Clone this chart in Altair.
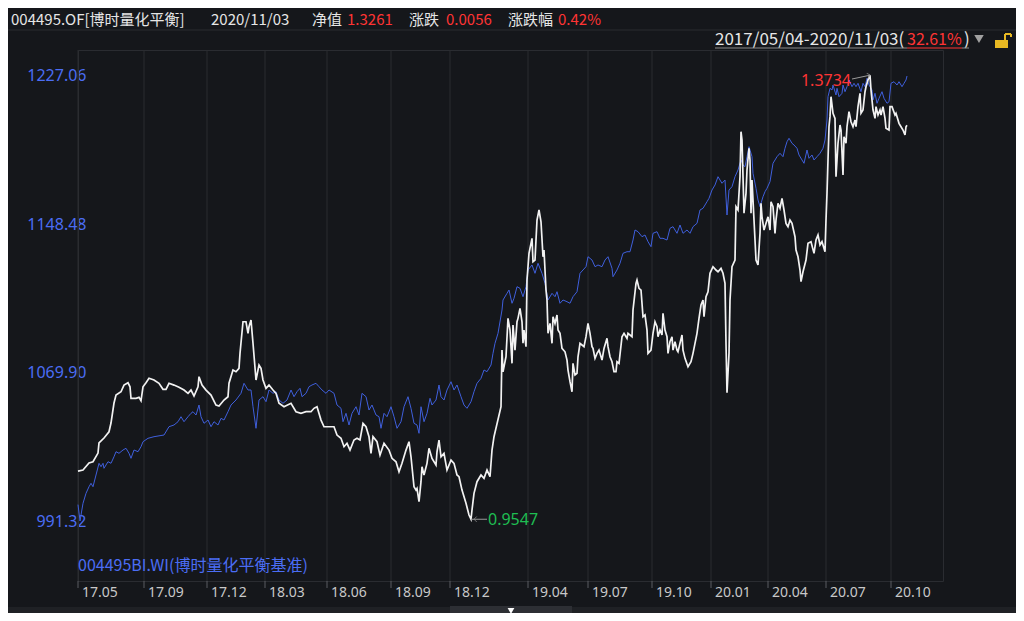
import altair as alt
import pandas as pd

# ---------------- data ----------------
# trading-session number since 2017/05/04 and unit NAV of 004495.OF
nav_day = [
    0, 5, 11, 15, 20, 21, 26, 31, 33, 36, 38, 43, 46, 50, 52, 53, 58, 61, 63, 65,
    68, 71, 76, 81, 85, 88, 91, 96, 101, 106, 110, 113, 116, 120, 121, 124, 128, 133, 138, 141,
    146, 150, 151, 155, 158, 161, 162, 165, 168, 170, 171, 173, 175, 178, 181, 183, 185, 188, 191, 195,
    198, 201, 206, 213, 218, 223, 228, 233, 236, 239, 243, 246, 251, 256, 259, 263, 266, 269, 272, 276,
    279, 282, 285, 288, 291, 293, 295, 299, 302, 306, 311, 314, 318, 321, 324, 328, 331, 333, 336, 338,
    339, 341, 343, 344, 346, 349, 351, 354, 358, 359, 361, 363, 366, 369, 373, 376, 379, 381, 384, 388,
    391, 393, 394, 396, 399, 403, 406, 409, 412, 414, 416, 423, 424, 425, 428, 430, 432, 434, 435, 437,
    439, 440, 442, 444, 445, 446, 448, 449, 451, 454, 455, 457, 459, 461, 463, 465, 466, 468, 469, 470,
    472, 474, 475, 477, 479, 480, 482, 484, 487, 489, 490, 492, 494, 495, 497, 499, 500, 502, 504, 506,
    508, 510, 512, 514, 515, 517, 519, 521, 524, 526, 529, 530, 532, 534, 536, 538, 539, 541, 544, 546,
    549, 550, 554, 555, 558, 559, 561, 563, 565, 567, 569, 570, 573, 575, 577, 579, 580, 582, 584, 585,
    587, 589, 590, 592, 594, 595, 597, 599, 600, 602, 604, 605, 607, 610, 613, 615, 619, 621, 623, 625,
    626, 628, 630, 632, 635, 638, 640, 643, 645, 647, 648, 649, 651, 652, 654, 657, 658, 660, 662, 663,
    664, 666, 668, 669, 671, 672, 673, 674, 677, 678, 680, 682, 683, 684, 686, 688, 690, 692, 693, 695,
    697, 698, 700, 702, 704, 706, 708, 710, 712, 714, 717, 718, 720, 722, 723, 725, 728, 730, 733, 736,
    738, 740, 742, 744, 747, 748, 749, 750, 751, 752, 753, 755, 757, 758, 760, 762, 763, 765, 766, 768,
    769, 771, 773, 775, 777, 778, 780, 782, 783, 785, 787, 788, 790, 792, 793, 795, 797, 798, 800, 802,
    803, 805, 807, 808, 811, 812, 814, 817, 818, 821, 823, 825, 827, 828, 829,
]
nav_value = [
    1.0000, 1.0011, 1.0077, 1.0089, 1.0171, 1.0266, 1.0313, 1.0372, 1.0454, 1.0643, 1.0718, 1.0749, 1.0812, 1.0834, 1.0796, 1.0687, 1.0687, 1.0696, 1.0664, 1.0796,
    1.0834, 1.0876, 1.0860, 1.0829, 1.0772, 1.0772, 1.0829, 1.0812, 1.0791, 1.0765, 1.0734, 1.0765, 1.0709, 1.0796, 1.0891, 1.0812, 1.0765, 1.0718, 1.0624, 1.0614,
    1.0671, 1.0702, 1.0829, 1.0954, 1.0938, 1.0970, 1.1111, 1.1409, 1.1409, 1.1300, 1.1362, 1.1425, 1.1206, 1.0860, 1.1001, 1.0970, 1.0860, 1.0781, 1.0812, 1.0765,
    1.0734, 1.0640, 1.0608, 1.0640, 1.0561, 1.0546, 1.0561, 1.0561, 1.0593, 1.0608, 1.0482, 1.0419, 1.0419, 1.0419, 1.0341, 1.0310, 1.0231, 1.0263, 1.0199, 1.0294,
    1.0310, 1.0294, 1.0451, 1.0419, 1.0325, 1.0168, 1.0325, 1.0278, 1.0152, 1.0263, 1.0199, 1.0121, 1.0089, 0.9995, 1.0074, 1.0199, 1.0278, 1.0136, 0.9853, 0.9822,
    0.9838, 0.9712, 0.9901, 1.0042, 0.9964, 1.0074, 1.0216, 1.0121, 1.0058, 1.0183, 1.0294, 1.0136, 1.0168, 1.0011, 1.0105, 1.0074, 0.9964, 0.9948, 0.9822, 0.9697,
    0.9587, 0.9547, 0.9634, 0.9791, 0.9901, 0.9964, 0.9933, 1.0011, 0.9948, 1.0199, 1.0325, 1.0608, 1.1142, 1.0938, 1.1079, 1.1441, 1.1331, 1.1017, 1.1378, 1.1142,
    1.1409, 1.1441, 1.1536, 1.1409, 1.1206, 1.1331, 1.1174, 1.1803, 1.2054, 1.2196, 1.1975, 1.1991, 1.2368, 1.2463, 1.2352, 1.2022, 1.2085, 1.1708, 1.1614, 1.1300,
    1.1394, 1.1206, 1.1457, 1.1394, 1.1473, 1.1331, 1.1300, 1.1158, 1.1126, 1.1048, 1.0954, 1.0844, 1.0749, 1.1017, 1.0907, 1.0923, 1.1079, 1.1206, 1.1190, 1.1174,
    1.1268, 1.1394, 1.1300, 1.1174, 1.1158, 1.1064, 1.1111, 1.1142, 1.1048, 1.1158, 1.1253, 1.1174, 1.1079, 1.1032, 1.0938, 1.0938, 1.1032, 1.1017, 1.1268, 1.1300,
    1.1253, 1.1300, 1.1268, 1.1520, 1.1771, 1.1803, 1.1724, 1.1708, 1.1457, 1.1473, 1.1331, 1.1111, 1.1142, 1.1300, 1.1409, 1.1362, 1.1268, 1.1331, 1.1284, 1.1489,
    1.1331, 1.1268, 1.1111, 1.1221, 1.1268, 1.1142, 1.1221, 1.1142, 1.1126, 1.1206, 1.1284, 1.1142, 1.1064, 1.0985, 1.1032, 1.1111, 1.1300, 1.1441, 1.1567, 1.1614,
    1.1457, 1.1645, 1.1692, 1.1866, 1.1928, 1.1897, 1.1881, 1.1913, 1.1866, 1.1771, 1.1206, 1.0740, 1.1111, 1.1614, 1.1928, 1.1991, 1.2494, 1.2463, 1.2777, 1.3201,
    1.3123, 1.2432, 1.2620, 1.2840, 1.3045, 1.2934, 1.2432, 1.2746, 1.2180, 1.1991, 1.1944, 1.2243, 1.2526, 1.2399, 1.2274, 1.2337, 1.2399, 1.2274, 1.2541, 1.2494,
    1.2243, 1.2368, 1.2526, 1.2479, 1.2573, 1.2463, 1.2337, 1.2305, 1.2368, 1.2337, 1.2211, 1.2085, 1.2022, 1.1897, 1.1787, 1.1881, 1.1991, 1.2149, 1.2164, 1.2054,
    1.2180, 1.2227, 1.2133, 1.2164, 1.2069, 1.2368, 1.2620, 1.2934, 1.3248, 1.3343, 1.3531, 1.3375, 1.3327, 1.2777, 1.3092, 1.3264, 1.3217, 1.2793, 1.3154, 1.3092,
    1.3248, 1.3390, 1.3295, 1.3248, 1.3311, 1.3248, 1.3437, 1.3563, 1.3375, 1.3406, 1.3578, 1.3625, 1.3689, 1.3734, 1.3594, 1.3406, 1.3327, 1.3437, 1.3359, 1.3406,
    1.3359, 1.3437, 1.3327, 1.3233, 1.3217, 1.3437, 1.3437, 1.3359, 1.3375, 1.3280, 1.3248, 1.3217, 1.3170, 1.3248, 1.3261,
]

# benchmark 004495BI.WI
bm_day = [
    0, 2, 5, 8, 11, 13, 15, 18, 21, 23, 25, 26, 30, 33, 36, 38, 41, 45, 48, 51,
    53, 56, 60, 63, 65, 70, 76, 86, 91, 96, 100, 103, 106, 110, 113, 115, 118, 121, 123, 126,
    130, 133, 136, 140, 143, 146, 150, 153, 158, 163, 166, 170, 173, 175, 178, 181, 185, 188, 191, 195,
    198, 201, 205, 209, 213, 216, 219, 222, 224, 228, 231, 234, 238, 241, 244, 248, 251, 256, 259, 263,
    265, 268, 271, 274, 278, 281, 284, 288, 291, 294, 298, 301, 303, 306, 309, 313, 316, 319, 323, 326,
    330, 333, 336, 339, 341, 343, 346, 349, 352, 354, 358, 361, 363, 366, 369, 373, 376, 379, 383, 386,
    389, 393, 396, 399, 403, 406, 409, 413, 415, 417, 420, 424, 425, 429, 431, 434, 436, 439, 442, 445,
    448, 450, 454, 457, 460, 464, 467, 470, 474, 477, 479, 482, 485, 489, 492, 495, 499, 502, 505, 508,
    510, 514, 517, 520, 524, 527, 530, 534, 535, 539, 542, 545, 549, 552, 555, 557, 560, 564, 567, 570,
    573, 575, 579, 582, 585, 589, 592, 595, 599, 602, 605, 609, 612, 615, 619, 622, 625, 629, 631, 634,
    637, 640, 644, 647, 649, 651, 654, 657, 660, 663, 665, 667, 669, 671, 674, 675, 678, 680, 682, 685,
    687, 689, 692, 695, 697, 699, 702, 705, 707, 709, 711, 714, 716, 719, 721, 724, 726, 729, 731, 734,
    736, 739, 742, 745, 747, 749, 750, 752, 754, 755, 758, 759, 761, 764, 765, 767, 769, 771, 774, 776,
    778, 780, 783, 785, 787, 789, 791, 794, 795, 797, 799, 801, 804, 806, 809, 811, 813, 816, 819, 821,
    824, 826, 828, 829,
]
bm_value = [
    1000.00, 991.32, 1000.70, 1005.99, 1009.49, 1011.29, 1009.49, 1015.69, 1021.89, 1020.09, 1021.89, 1019.24, 1022.73, 1021.89, 1025.38, 1028.03, 1027.19, 1028.93, 1029.83, 1027.19,
    1024.54, 1028.93, 1028.03, 1030.68, 1033.33, 1035.13, 1035.98, 1036.88, 1041.28, 1042.18, 1043.92, 1046.57, 1043.92, 1046.57, 1048.37, 1049.22, 1047.47, 1052.77, 1046.57, 1043.08,
    1044.82, 1041.28, 1043.92, 1042.18, 1045.72, 1044.82, 1049.22, 1052.77, 1055.42, 1058.97, 1064.27, 1060.72, 1060.72, 1051.87, 1040.43, 1055.42, 1057.17, 1054.52, 1060.72, 1058.97,
    1059.82, 1055.42, 1053.67, 1055.42, 1060.72, 1057.17, 1059.82, 1061.62, 1057.17, 1058.97, 1062.46, 1063.37, 1064.27, 1062.46, 1060.72, 1058.97, 1060.72, 1058.97, 1052.77, 1051.02,
    1043.92, 1048.37, 1042.18, 1048.37, 1051.87, 1047.47, 1058.97, 1057.17, 1050.12, 1052.77, 1047.47, 1046.57, 1040.43, 1048.37, 1046.57, 1051.87, 1046.57, 1040.43, 1043.92, 1051.87,
    1057.17, 1051.02, 1043.08, 1042.18, 1037.78, 1051.87, 1043.92, 1048.37, 1056.32, 1052.77, 1055.42, 1063.37, 1057.17, 1055.42, 1060.72, 1065.11, 1060.72, 1063.37, 1057.17, 1052.77,
    1051.02, 1054.52, 1059.82, 1064.27, 1066.91, 1071.31, 1070.42, 1073.96, 1080.16, 1085.46, 1090.75, 1103.10, 1108.39, 1111.94, 1113.69, 1106.65, 1109.30, 1115.44, 1114.59, 1110.14,
    1115.44, 1124.29, 1126.94, 1122.54, 1127.84, 1122.54, 1117.24, 1108.39, 1111.94, 1110.14, 1112.79, 1106.65, 1108.39, 1107.50, 1106.65, 1110.14, 1112.79, 1122.54, 1124.29, 1126.04,
    1131.33, 1129.58, 1126.04, 1126.94, 1126.04, 1129.58, 1131.33, 1125.19, 1120.74, 1124.29, 1127.84, 1133.13, 1133.98, 1133.98, 1140.18, 1145.48, 1144.58, 1141.93, 1142.83, 1139.28,
    1136.63, 1143.73, 1144.58, 1141.08, 1141.08, 1140.18, 1146.38, 1147.23, 1143.73, 1148.13, 1143.73, 1145.48, 1143.73, 1147.23, 1149.03, 1156.07, 1156.97, 1160.47, 1162.27, 1166.67,
    1169.32, 1173.71, 1170.22, 1171.96, 1153.42, 1166.67, 1168.42, 1173.71, 1177.26, 1182.56, 1179.91, 1179.01, 1184.31, 1189.61, 1184.31, 1175.51, 1167.57, 1161.37, 1157.82, 1163.12,
    1165.77, 1167.57, 1171.06, 1180.81, 1182.56, 1184.31, 1186.11, 1184.31, 1188.76, 1192.25, 1194.06, 1191.41, 1190.51, 1188.76, 1185.21, 1182.56, 1180.81, 1187.86, 1183.46, 1185.21,
    1182.56, 1184.31, 1186.11, 1188.76, 1193.15, 1203.75, 1216.09, 1220.54, 1219.64, 1222.29, 1216.99, 1220.54, 1216.09, 1217.89, 1222.29, 1218.74, 1221.39, 1224.94, 1221.39, 1223.19,
    1221.39, 1223.19, 1218.74, 1223.19, 1221.39, 1225.84, 1222.29, 1219.64, 1214.34, 1217.89, 1212.60, 1215.25, 1218.74, 1215.25, 1212.60, 1213.44, 1223.19, 1224.04, 1222.29, 1224.04,
    1221.39, 1223.19, 1224.94, 1227.06,
]

tick_day = [0, 66, 129, 187, 249, 313, 372, 450, 510, 574, 633, 690, 748, 813]
tick_label = ["17.05", "17.09", "17.12", "18.03", "18.06", "18.09", "18.12",
              "19.04", "19.07", "19.10", "20.01", "20.04", "20.07", "20.10"]
nav_ticks = [0.95, 1.03, 1.11, 1.19, 1.27, 1.35]
bm_ticks = [991.32, 1069.90, 1148.48, 1227.06]

assert len(nav_day) == len(nav_value)
assert len(bm_day) == len(bm_value)
assert len(tick_day) == len(tick_label)

# ---------------- style ----------------
BG = "#15171b"
GRID = "#2a2c31"
WHITE = "#f2f2f2"
LINE_BLUE = "#3f5fdc"
TXT_BLUE = "#4b6df4"
LABEL = "#c8c8c8"
RED = "#ff3434"
GREEN = "#1fbd52"
FONT = "'Noto Sans', 'Noto Sans CJK SC', sans-serif"
CJK = "'Noto Sans CJK SC', 'Noto Sans', sans-serif"

W, H = 865, 531

nav_df = pd.DataFrame({"t": nav_day, "nav": nav_value})
bm_df = pd.DataFrame({"t": bm_day, "bm": bm_value})
tick_df = pd.DataFrame({"t": tick_day, "label": tick_label})
imax = nav_value.index(max(nav_value))
imin = nav_value.index(min(nav_value))
max_df = pd.DataFrame({"t": [nav_day[imax]], "nav": [nav_value[imax]]})
min_df = pd.DataFrame({"t": [nav_day[imin]], "nav": [nav_value[imin]]})
one = pd.DataFrame({"k": [0]})

x_scale = alt.Scale(domain=[0, 865], nice=False, zero=False)
xs = alt.X("t:Q", scale=x_scale, axis=None)

nav_scale = alt.Scale(domain=[0.89647, 1.39715], nice=False, zero=False)
bm_scale = alt.Scale(domain=[959.54, 1240.83], nice=False, zero=False)
ys = alt.Y("nav:Q", scale=nav_scale, axis=None)

# x "axis": vertical grid, ticks and month labels drawn from the tick table
x_grid = alt.Chart(tick_df).mark_rule(color=GRID, strokeWidth=1).encode(
    x=xs, y=alt.value(0), y2=alt.value(H))
x_ticks = alt.Chart(tick_df).mark_rule(color="#5a5d63", strokeWidth=1).encode(
    x=xs, y=alt.value(H), y2=alt.value(H + 7))
x_labels = alt.Chart(tick_df).mark_text(
    align="left", baseline="middle", dx=4, color=LABEL, font=FONT, fontSize=14
).encode(x=xs, y=alt.value(H + 12), text="label:N")

bm_line = alt.Chart(bm_df).mark_line(color=LINE_BLUE, strokeWidth=1).encode(
    x=xs,
    y=alt.Y("bm:Q", scale=bm_scale,
            axis=alt.Axis(orient="left", values=bm_ticks, format=".2f", title=None,
                          grid=False, ticks=False, tickSize=0, labelPadding=-8,
                          labelColor=TXT_BLUE, labelFont=FONT, labelFontSize=16,
                          domainColor=GRID, labelFlush=False, labelOverlap=False)),
)

nav_line = alt.Chart(nav_df).mark_line(color=WHITE, strokeWidth=1.7).encode(
    x=xs,
    y=alt.Y("nav:Q", scale=nav_scale,
            axis=alt.Axis(orient="right", values=nav_ticks, format=".4f", title=None,
                          grid=True, gridColor=GRID, ticks=False, tickSize=0,
                          labelPadding=5, labelColor=LABEL, labelFont=FONT,
                          labelFontSize=16, domainColor=GRID, labelFlush=False,
                          labelOverlap=False)),
)

max_rule = alt.Chart(max_df).mark_rule(color="#9a9a9a", strokeWidth=1).encode(
    x=xs, y=ys, x2=alt.value(774), y2=alt.value(29))
max_head = alt.Chart(max_df).mark_point(
    shape="M -1 -1 L 0 0 L -1 1", filled=False, color="#9a9a9a", size=30,
    strokeWidth=1, angle=347).encode(x=xs, y=ys)
max_text = alt.Chart(max_df).mark_text(
    align="right", baseline="middle", dx=-19, dy=6, color=RED, font=FONT,
    fontSize=16).encode(x=xs, y=ys, text=alt.Text("nav:Q", format=".4f"))

min_rule = alt.Chart(min_df).mark_rule(color="#9a9a9a", strokeWidth=1).encode(
    x=xs, y=ys, x2=alt.value(409))
min_head = alt.Chart(min_df).mark_point(
    shape="M 1 -1 L 0 0 L 1 1", filled=False, color="#9a9a9a", size=30,
    strokeWidth=1, xOffset=3).encode(x=xs, y=ys)
min_text = alt.Chart(min_df).mark_text(
    align="left", baseline="middle", dx=17, dy=1, color=GREEN, font=FONT,
    fontSize=16).encode(x=xs, y=ys, text=alt.Text("nav:Q", format=".4f"))

nav_layer = alt.layer(nav_line, max_rule, max_head, max_text,
                      min_rule, min_head, min_text)


def txt(s, x, y, color, size=16, align="left", font=CJK):
    return alt.Chart(one).mark_text(
        text=s, align=align, baseline="middle", color=color, fontSize=size,
        font=font).encode(x=alt.value(x), y=alt.value(y))


def box(x1, x2, y1, y2, color):
    return alt.Chart(one).mark_rect(color=color).encode(
        x=alt.value(x1), x2=alt.value(x2), y=alt.value(y1), y2=alt.value(y2))


def rule(x1, x2, y1, y2, color, w=1):
    return alt.Chart(one).mark_rule(color=color, strokeWidth=w).encode(
        x=alt.value(x1), x2=alt.value(x2), y=alt.value(y1), y2=alt.value(y2))


decor_back = [
    box(-70, 938, 557, 563, "#1f2125"),
    box(372, 494, 556, 563, "#2d2f34"),
    rule(-70, 938, -20, -20, GRID),
]

HY = -30
decor_front = [
    txt("004495.OF[博时量化平衡]", -67, HY, "#e6e6e6", size=15),
    txt("2020/11/03", 133, HY, "#e6e6e6", size=15),
    txt("净值", 234, HY, "#e6e6e6", size=15),
    txt("1.3261", 269, HY, RED, size=15),
    txt("涨跌", 331, HY, "#e6e6e6", size=15),
    txt("0.0056", 368, HY, RED, size=15),
    txt("涨跌幅", 430, HY, "#e6e6e6", size=15),
    txt("0.42%", 480, HY, RED, size=15),
    txt("2017/05/04-2020/11/03(", 637, -10, "#e6e6e6", size=17),
    txt("32.61%", 829, -10, RED, size=16),
    txt(")", 886, -10, "#e6e6e6", size=17),
    rule(637, 829, -2, -2, "#8c8c8c"),
    rule(829, 884, -2, -2, RED),
    rule(884, 891, -2, -2, "#8c8c8c"),
    alt.Chart(one).mark_point(shape="triangle-down", filled=True, color="#a0a0a0",
                              size=90, opacity=1).encode(x=alt.value(901), y=alt.value(-11)),
    box(917, 930, -10, -2, "#e8b923"),
    rule(927, 927, -16, -10, "#e8b923", 2),
    rule(927, 933, -16, -16, "#e8b923", 2),
    rule(933, 933, -16, -13, "#e8b923", 2),
    txt("004495BI.WI(博时量化平衡基准)", 0, 516, TXT_BLUE),
    alt.Chart(one).mark_point(shape="triangle-down", filled=True, color="#ffffff",
                              size=45, opacity=1).encode(x=alt.value(433), y=alt.value(561)),
]

chart = alt.layer(
    *decor_back, x_grid, x_ticks, x_labels, bm_line, nav_layer, *decor_front
).resolve_scale(
    y="independent"
).properties(
    width=W, height=H,
    autosize=alt.AutoSizeParams(type="none"),
    padding={"left": 70, "top": 42, "right": 73, "bottom": 32},
    background=BG,
).configure_view(
    stroke=GRID, strokeWidth=1
)

chart.save("out.html", embed_options={"renderer": "svg", "actions": False})
